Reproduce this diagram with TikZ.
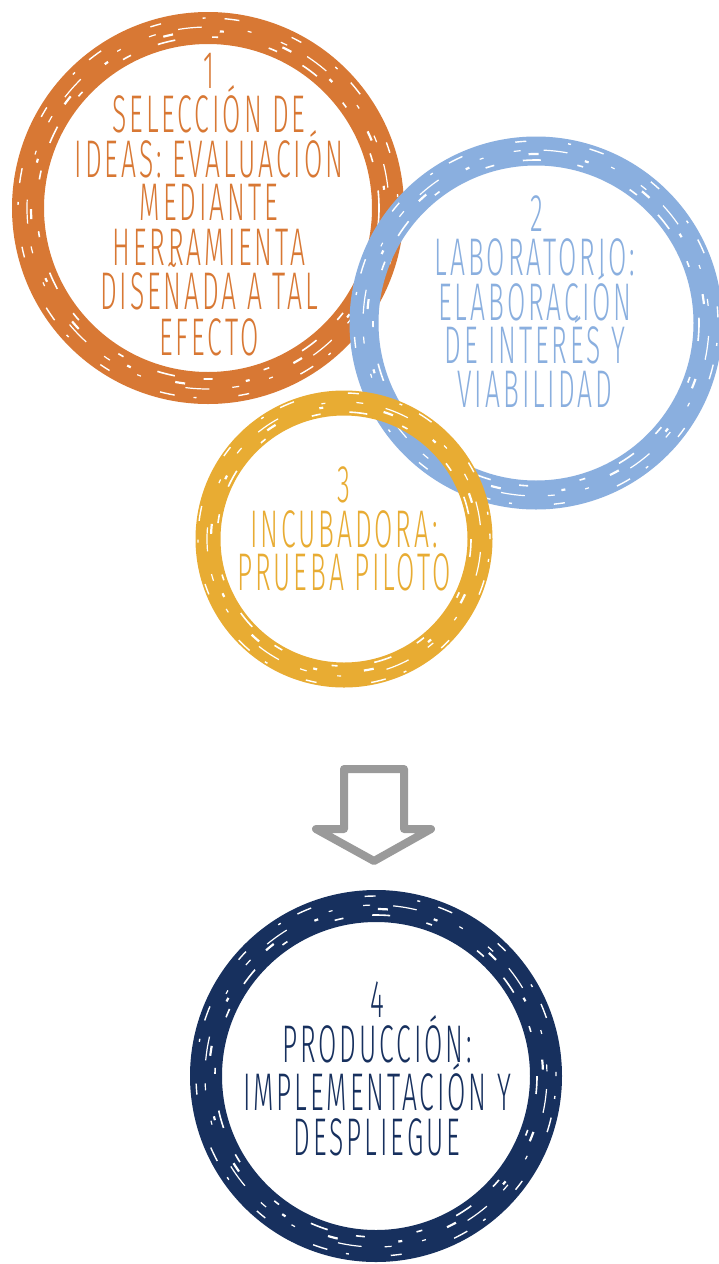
\documentclass[tikz,border=0pt]{standalone}
\usepackage{fontspec}
\setmainfont{Fira Sans}[UprightFont={* Light},FakeStretch=0.5,LetterSpace=5.5]
\definecolor{cOrange}{HTML}{D87834}
\definecolor{cBlue}{HTML}{8AAFDF}
\definecolor{cYellow}{HTML}{E8AC33}
\definecolor{cNavy}{HTML}{17305E}
\definecolor{cGrey}{HTML}{9A9A9A}
\tikzset{
  ring/.style={circle, draw=#1, inner sep=0pt},
  lbl/.style={anchor=base, inner sep=0pt, text height=30pt, text depth=0pt, text=#1, font=\fontsize{53}{53}\selectfont},
  scrA/.style={draw=white, line width=1.6pt, dash pattern=on 18pt off 37pt on 6pt off 52pt on 9pt off 29pt},
  scrB/.style={draw=white, line width=1.2pt, dash pattern=on 7pt off 23pt on 24pt off 46pt on 4pt off 31pt, dash phase=17pt},
  scrC/.style={draw=white, line width=1.4pt, dash pattern=on 11pt off 42pt on 3pt off 19pt on 15pt off 55pt, dash phase=33pt},
  scrD/.style={draw=white, line width=2.2pt, dash pattern=on 4pt off 61pt on 10pt off 47pt, dash phase=8pt},
  arrowline/.style={draw=cGrey, line width=8pt, line join=round}
}
\newcommand{\ringtex}[3]{%
  \draw[scrA] (#1,#2) circle[radius=#3-9];
  \draw[scrB] (#1,#2) circle[radius=#3+1];
  \draw[scrC] (#1,#2) circle[radius=#3+10];
  \draw[scrD] (#1,#2) circle[radius=#3-3];
}
\begin{document}
\begin{tikzpicture}[x=1pt,y=-1pt]
\useasboundingbox[fill=white] (0,0) rectangle (719,1264);
% ring 1
\node[ring=cOrange, line width=32pt, minimum size=360pt] (c1) at (208,208) {};
\ringtex{208}{208}{180}
% ring 2
\node[ring=cBlue, line width=29pt, minimum size=344pt] (c2) at (536,323) {};
\ringtex{536}{323}{172}
% ring 3
\node[ring=cYellow, line width=25pt, minimum size=272pt] (c3) at (344,539) {};
\ringtex{344}{539}{136}
% ring 4
\node[ring=cNavy, line width=32pt, minimum size=340pt] (c4) at (376,1076) {};
\ringtex{376}{1076}{170}
% texts 1
\node[lbl=cOrange] (t1a) at (209,88) {1};
\node[lbl=cOrange] (t1b) at (209,132) {SELECCIÓN DE};
\node[lbl=cOrange] (t1c) at (209,177) {IDEAS: EVALUACIÓN};
\node[lbl=cOrange] (t1d) at (209,220) {MEDIANTE};
\node[lbl=cOrange] (t1e) at (209,265) {HERRAMIENTA};
\node[lbl=cOrange] (t1f) at (209,309) {DISEÑADA A TAL};
\node[lbl=cOrange] (t1g) at (209,355) {EFECTO};
% texts 2
\node[lbl=cBlue] (t2a) at (537,231) {2};
\node[lbl=cBlue] (t2b) at (535,275) {LABORATORIO:};
\node[lbl=cBlue] (t2c) at (535,320) {ELABORACIÓN};
\node[lbl=cBlue] (t2d) at (535,363) {DE INTERÉS Y};
\node[lbl=cBlue] (t2e) at (535,407) {VIABILIDAD};
% texts 3
\node[lbl=cYellow] (t3a) at (344,502) {3};
\node[lbl=cYellow] (t3b) at (344,547) {INCUBADORA:};
\node[lbl=cYellow] (t3c) at (344,590) {PRUEBA PILOTO};
% texts 4
\node[lbl=cNavy] (t4a) at (377,1017) {4};
\node[lbl=cNavy] (t4b) at (377,1062) {PRODUCCIÓN:};
\node[lbl=cNavy] (t4c) at (377,1110) {IMPLEMENTACIÓN Y};
\node[lbl=cNavy] (t4d) at (377,1155) {DESPLIEGUE};
% arrow
\draw[arrowline] (344,769) -- (404,769) -- (404,829) -- (431,829) -- (374,861) -- (316,829) -- (344,829) -- cycle;
\end{tikzpicture}
\end{document}
